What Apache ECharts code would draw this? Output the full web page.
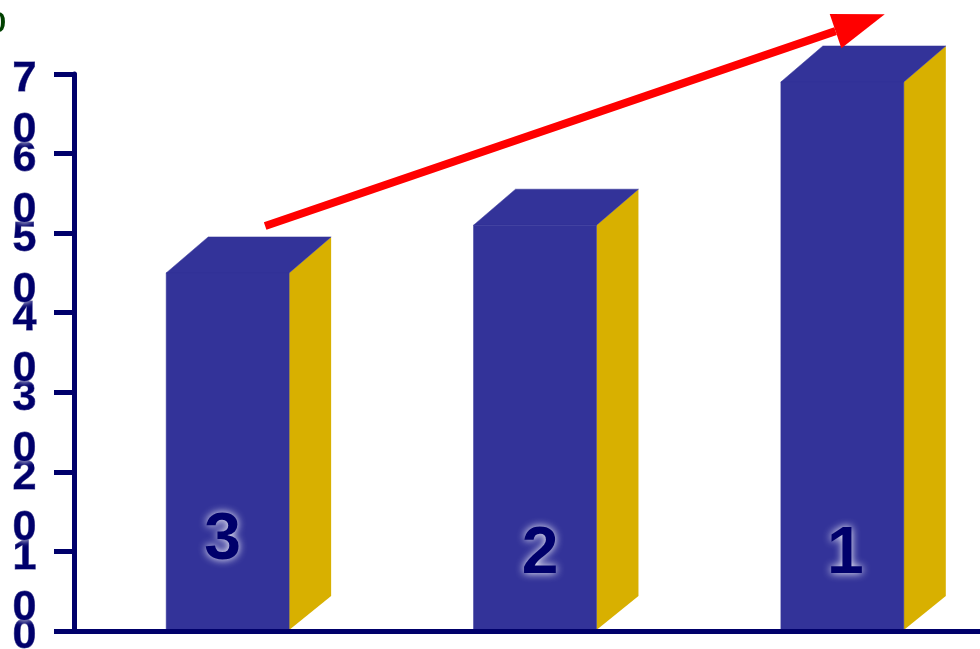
<!DOCTYPE html>
<html>
<head>
<meta charset="utf-8">
<style>html,body{margin:0;padding:0;background:#fff;overflow:hidden}#c{width:980px;height:649px}</style>
<script src="https://cdn.jsdelivr.net/npm/echarts@6/dist/echarts.min.js"></script>
</head>
<body>
<div id="c"></div>
<script>
var categories = ['3', '2', '1'];
var barValues = [450, 510, 690];
var tickValues = [0, 100, 200, 300, 400, 500, 600, 700];
var tickLabels = ['0', '1\n0', '2\n0', '3\n0', '4\n0', '5\n0', '6\n0', '7\n0'];
var cornerText = '0';
var arrowValues = [509, 775];

var NAVY = '#00006b', FRONT = '#333399', SIDE = '#d8b000', RED = '#ff0000';
var DEPTH_X = 42, DEPTH_Y = 36;
var labelShift = [[-5, -90], [5, -76], [3, -76]];

var chart = echarts.init(document.getElementById('c'), null, {renderer: 'canvas'});

function renderBar(params, api) {
  var idx = api.value(0), val = api.value(1);
  var top = api.coord([idx, val]), base = api.coord([idx, 0]);
  var w = api.size([1, 0])[0] * 0.4;
  var x = top[0] - w / 2, y = top[1], b = base[1] - 1;
  var shift = labelShift[idx];
  return {
    type: 'group',
    children: [
      {type: 'polygon', shape: {points: [[x + w, y], [x + w + DEPTH_X, y - DEPTH_Y], [x + w + DEPTH_X, b - DEPTH_Y + 2], [x + w, b]]}, style: {fill: SIDE}},
      {type: 'polygon', shape: {points: [[x, y], [x + DEPTH_X, y - DEPTH_Y], [x + w + DEPTH_X, y - DEPTH_Y], [x + w, y]]}, style: {fill: FRONT, stroke: FRONT, lineWidth: 0.5}},
      {type: 'rect', shape: {x: x, y: y, width: w, height: b - y}, style: {fill: FRONT, stroke: FRONT, lineWidth: 0.5}},
      {type: 'text', x: top[0] + shift[0], y: base[1] + shift[1], style: {
        text: categories[idx], fill: NAVY, font: 'bold 66px "Liberation Sans", Arial, sans-serif',
        align: 'center', verticalAlign: 'middle',
        textShadowColor: '#ffffff', textShadowBlur: 9
      }}
    ]
  };
}

function renderArrow(params, api) {
  var p0 = api.coord([0, arrowValues[0]]), p2 = api.coord([2, arrowValues[1]]);
  var band = (p2[0] - p0[0]) / 2;
  var sx = p0[0] + band * 0.122, sy = p0[1];
  var ex = p2[0] + band * 0.138, ey = p2[1];
  var a = Math.atan2(ey - sy, ex - sx);
  var headLen = 52, headHalf = 18;
  var bx = ex - headLen * Math.cos(a), by = ey - headLen * Math.sin(a);
  var nx = -Math.sin(a), ny = Math.cos(a);
  return {
    type: 'group',
    children: [
      {type: 'line', shape: {x1: sx, y1: sy, x2: bx, y2: by}, style: {stroke: RED, lineWidth: 8}},
      {type: 'polygon', shape: {points: [[ex, ey], [bx + nx * headHalf, by + ny * headHalf], [bx - nx * headHalf, by - ny * headHalf]]}, style: {fill: RED}}
    ]
  };
}

function renderTickLabel(params, api) {
  var v = api.value(1);
  var y = api.coord([0, v])[1];
  return {
    type: 'text', x: 24.5, y: y - 20, style: {
      text: tickLabels[tickValues.indexOf(v)], fill: NAVY,
      stroke: NAVY, lineWidth: 0.8,
      font: 'bold 43px "Liberation Sans", Arial, sans-serif', lineHeight: 51,
      align: 'center', verticalAlign: 'top',
      textShadowColor: '#ffffff', textShadowBlur: 6
    }
  };
}

chart.setOption({
  animation: false,
  backgroundColor: '#ffffff',
  grid: {left: 74, width: 922, top: 74, height: 557, outerBoundsMode: 'none', containLabel: false},
  xAxis: {
    type: 'category', data: categories, z: 5,
    axisLine: {lineStyle: {color: NAVY, width: 5}},
    axisTick: {show: false}, axisLabel: {show: false}, splitLine: {show: false}
  },
  yAxis: {
    type: 'value', min: 0, max: 700, interval: 100, z: 5,
    axisLine: {show: true, lineStyle: {color: NAVY, width: 5}},
    axisTick: {show: true, length: 20, lineStyle: {color: NAVY, width: 5}},
    splitLine: {show: false},
    axisLabel: {show: false}
  },
  graphic: [{
    type: 'text', left: -10, top: 9, z: 10,
    style: {text: cornerText, fill: '#004000', font: 'bold 29px "Liberation Sans", Arial, sans-serif'}
  }],
  series: [
    {type: 'custom', renderItem: renderBar, data: barValues.map(function (v, i) { return [i, v]; }), encode: {x: 0, y: 1}, z: 2},
    {type: 'custom', renderItem: renderArrow, data: [[0, arrowValues[0]]], encode: {x: 0, y: 1}, z: 3},
    {type: 'custom', renderItem: renderTickLabel, data: tickValues.map(function (v) { return [0, v]; }), encode: {x: 0, y: 1}, z: 6}
  ]
});
</script>
</body>
</html>
